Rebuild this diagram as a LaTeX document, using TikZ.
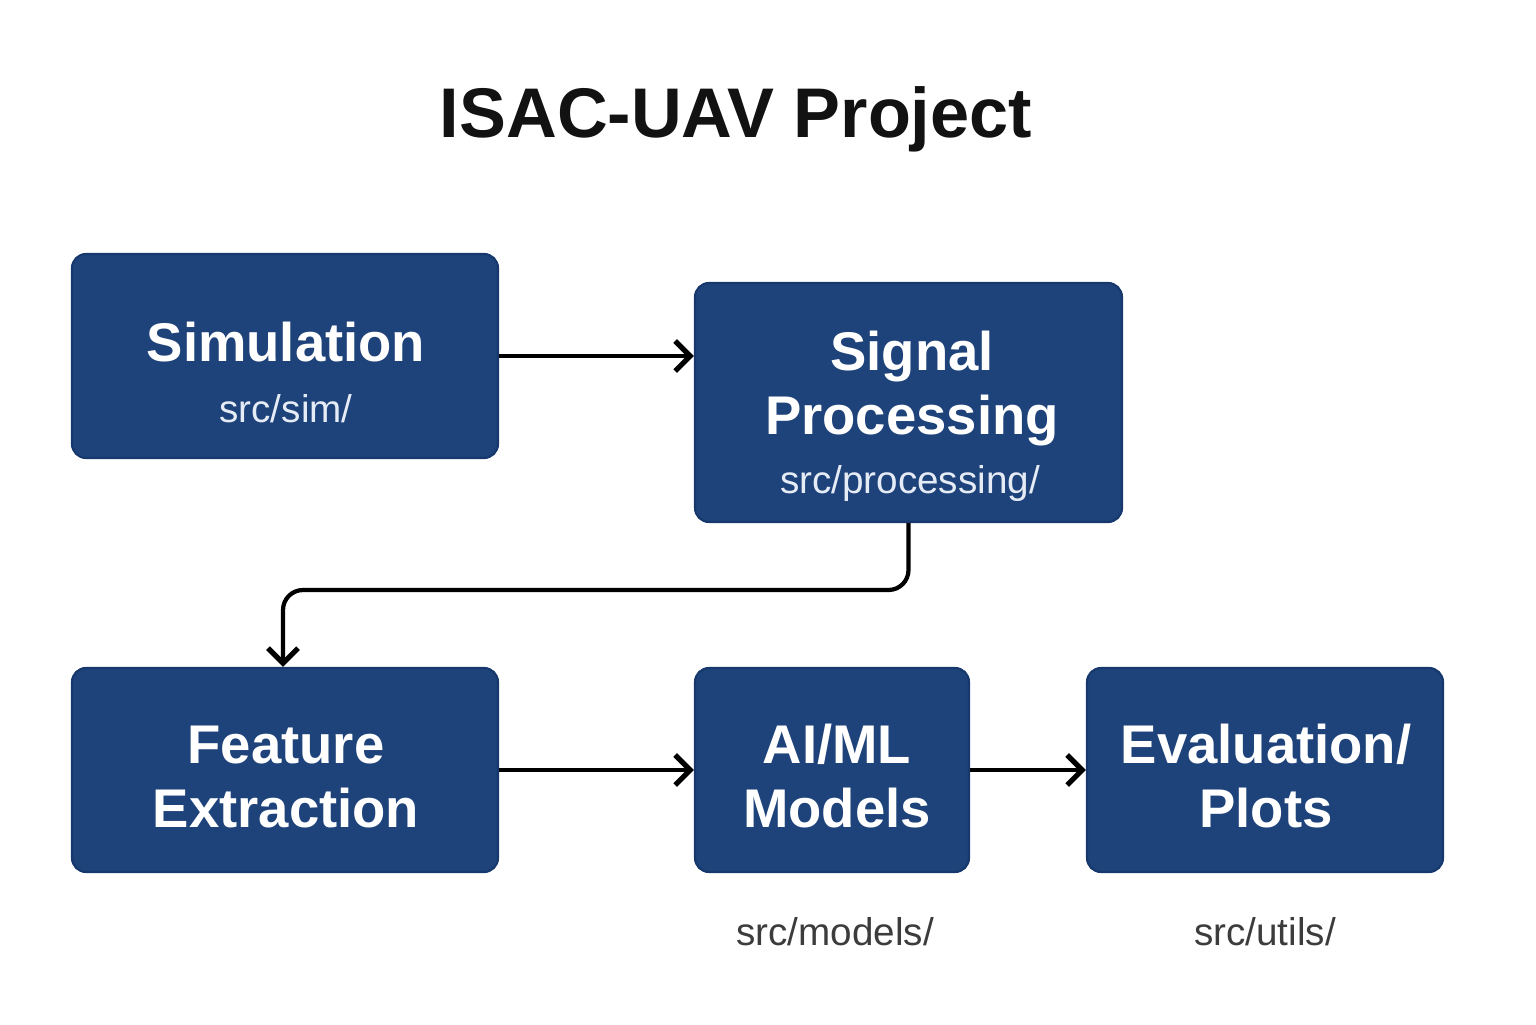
\documentclass[tikz,border=0pt]{standalone}
\usepackage{fontspec}
\setmainfont{Liberation Sans}
\usetikzlibrary{arrows.meta,positioning}
\definecolor{boxblue}{HTML}{1E427A}
\definecolor{boxedge}{HTML}{16386C}
\definecolor{pathwhite}{HTML}{E6ECF5}
\definecolor{notegray}{HTML}{3C3C3C}

\tikzset{
  procbox/.style={draw=boxedge,fill=boxblue,rounded corners=.14cm,
    line width=.6pt,inner sep=0pt},
  boxname/.style={anchor=base,text=white,align=center,
    font=\fontsize{15.5}{18.2}\selectfont\bfseries},
  boxpath/.style={anchor=base,text=pathwhite,font=\fontsize{11}{13}\selectfont},
  pathnote/.style={anchor=base,text=notegray,font=\fontsize{11}{13}\selectfont},
  flow/.style={-{Straight Barb[length=1.5mm,width=3mm,line width=1.5pt]},
    line width=1.2pt,rounded corners=.2cm}
}

\begin{document}
\begin{tikzpicture}[x=1cm,y=1cm]
    \useasboundingbox (0,0) rectangle (15.36,10.24);
    \node[anchor=base,text=black!93,font=\fontsize{20}{24}\selectfont\bfseries]
      (title) at (7.36,8.86) {ISAC-UAV Project};
    % boxes
    \node[procbox,minimum width=4.26cm,minimum height=2.04cm] (sim) at (2.85,6.68) {};
    \node[procbox,minimum width=4.27cm,minimum height=2.39cm] (sigproc) at (9.085,6.215) {};
    \node[procbox,minimum width=4.26cm,minimum height=2.04cm] (featx) at (2.85,2.54) {};
    \node[procbox,minimum width=2.74cm,minimum height=2.04cm] (aiml) at (8.32,2.54) {};
    \node[procbox,minimum width=3.56cm,minimum height=2.04cm] (evalplot) at (12.65,2.54) {};
    % texts (base = last line)
    \node[boxname] (simname) at (2.86,6.63) {Simulation};
    \node[boxpath] (simpath) at (2.86,6.02) {src/sim/};
    \node[boxname] (signame) at (9.12,5.90) {Signal\\Processing};
    \node[boxpath] (sigpath) at (9.10,5.31) {src/processing/};
    \node[boxname] (featname) at (2.86,1.97) {Feature\\Extraction};
    \node[boxname] (ainame) at (8.37,1.97) {AI/ML\\Models};
    \node[boxname] (evalname) at (12.66,1.97) {Evaluation/\\Plots};
    \node[pathnote] (aipath) at (8.35,0.79) {src/models/};
    \node[pathnote] (evalpath) at (12.65,0.79) {src/utils/};
    % connectors
    \coordinate (bend) at (0,4.34);
    \draw[flow] (sim.east) -- (sim.east -| sigproc.west);
    \draw[flow] (sigproc.south) -- (sigproc.south |- bend)
      -- ([xshift=-.02cm]featx.north |- bend) -- ([xshift=-.02cm]featx.north);
    \draw[flow] (featx.east) -- (aiml.west);
    \draw[flow] (aiml.east) -- (evalplot.west);
  \end{tikzpicture}
\end{document}
